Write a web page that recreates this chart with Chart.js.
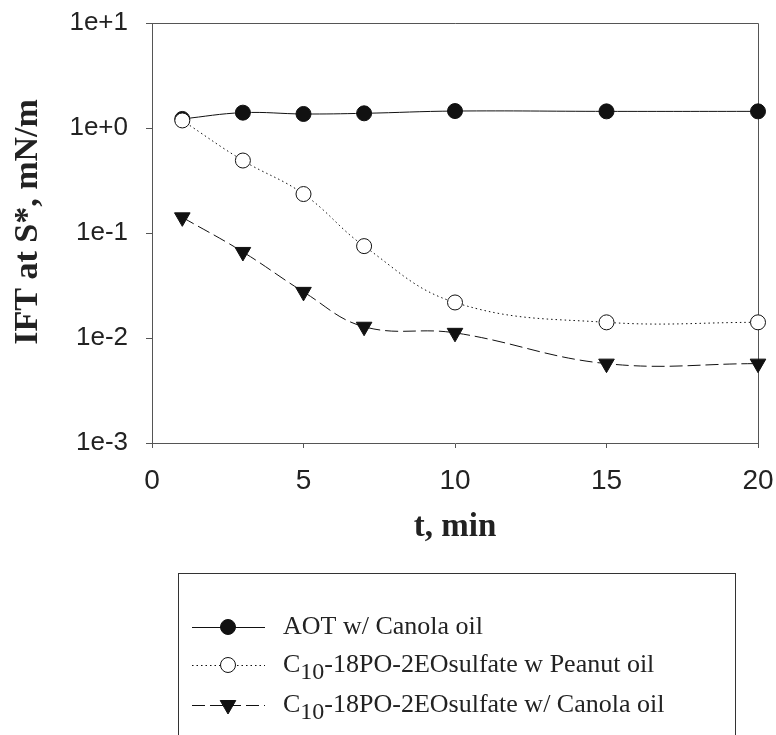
<!DOCTYPE html>
<html>
<head>
<meta charset="utf-8">
<script src="https://cdn.jsdelivr.net/npm/chart.js@4/dist/chart.umd.min.js"></script>
<style>
  html, body { margin: 0; padding: 0; background: #fff; overflow: hidden; }
  #wrap { position: relative; width: 776px; height: 735px; }
</style>
</head>
<body>
<div id="wrap"><canvas id="ift"></canvas></div>
<script>
// time points (min)
const TIMES = [1, 3, 5, 7, 10, 15, 20];
// IFT at S*, mN/m
const AOT_CANOLA = [1.22, 1.40, 1.36, 1.38, 1.45, 1.44, 1.44];
const C10_PEANUT = [1.18, 0.49, 0.235, 0.075, 0.0218, 0.0141, 0.0141];
const C10_CANOLA = [0.141, 0.066, 0.0275, 0.0128, 0.0112, 0.0057, 0.0057];

const Y_TICKS = [10, 1, 0.1, 0.01, 0.001];
const Y_LABELS = ['1e+1', '1e+0', '1e-1', '1e-2', '1e-3'];
const X_TICKS = [0, 5, 10, 15, 20];
const Y_TITLE = 'IFT at S*, mN/m';

const LEGEND_ITEMS = [
  { main: 'AOT w/ Canola oil' },
  { pre: 'C', sub: '10', main: '-18PO-2EOsulfate w Peanut oil' },
  { pre: 'C', sub: '10', main: '-18PO-2EOsulfate w/ Canola oil' },
];

const AXIS = '#555';
const INK = '#111';
const SERIF = '"Liberation Serif", "Times New Roman", serif';
const SANS = '"Liberation Sans", Arial, sans-serif';

function pts(ys) { return TIMES.map((t, i) => ({ x: t, y: ys[i] })); }

// no automatic label overflow padding: layout.padding decides the plot box
function noPad(s) {
  s.paddingTop = 0; s.paddingBottom = 0; s.paddingLeft = 0; s.paddingRight = 0;
}

// frame on top/right, y title, and the boxed legend underneath the plot
const framePlugin = {
  id: 'frame',
  beforeDatasetsDraw(chart) {
    const { ctx, chartArea: a } = chart;
    ctx.save();
    ctx.strokeStyle = AXIS;
    ctx.lineWidth = 1;
    ctx.beginPath();
    ctx.moveTo(a.left, a.top + 0.5);
    ctx.lineTo(a.right + 0.5, a.top + 0.5);
    ctx.lineTo(a.right + 0.5, a.bottom);
    ctx.stroke();

    ctx.translate(28, 222);
    ctx.rotate(-Math.PI / 2);
    ctx.fillStyle = '#222';
    ctx.font = 'bold 34px ' + SERIF;
    ctx.textAlign = 'center';
    ctx.textBaseline = 'middle';
    ctx.fillText(Y_TITLE, 0, 0);
    ctx.restore();
  },
  afterDraw(chart) {
    const { ctx } = chart;
    const sets = chart.data.datasets;
    ctx.save();
    ctx.strokeStyle = '#333';
    ctx.lineWidth = 1;
    ctx.strokeRect(178.5, 573.5, 557, 200);
    const rows = [627, 665, 705];
    LEGEND_ITEMS.forEach((item, i) => {
      const ds = sets[i];
      const y = rows[i];
      ctx.save();
      ctx.strokeStyle = INK;
      ctx.lineWidth = 1;
      ctx.setLineDash(ds.borderDash || []);
      ctx.beginPath();
      ctx.moveTo(192, y + 0.5);
      ctx.lineTo(265, y + 0.5);
      ctx.stroke();
      ctx.restore();
      ctx.save();
      ctx.fillStyle = ds.pointBackgroundColor;
      ctx.strokeStyle = ds.pointBorderColor;
      ctx.lineWidth = 1;
      Chart.helpers.drawPoint(ctx, {
        pointStyle: ds.pointStyle,
        rotation: ds.pointRotation || 0,
        radius: ds.pointRadius,
        borderWidth: 1,
      }, 228, y);
      ctx.restore();
      ctx.fillStyle = '#222';
      ctx.textBaseline = 'middle';
      ctx.font = '26px ' + SERIF;
      let x = 283;
      if (item.pre) {
        ctx.fillText(item.pre, x, y);
        x += ctx.measureText(item.pre).width;
        ctx.font = '24px ' + SERIF;
        ctx.fillText(item.sub, x, y + 8);
        x += ctx.measureText(item.sub).width;
        ctx.font = '26px ' + SERIF;
      }
      ctx.fillText(item.main, x, y);
    });
    ctx.restore();
  },
};

const ctx = document.getElementById('ift');
new Chart(ctx, {
  type: 'line',
  data: {
    datasets: [
      {
        label: 'AOT w/ Canola oil',
        data: pts(AOT_CANOLA),
        borderColor: INK,
        borderWidth: 1,
        pointStyle: 'circle',
        pointRadius: 7.5,
        pointBackgroundColor: INK,
        pointBorderColor: INK,
        tension: 0.4,
        order: 1,
        clip: false,
      },
      {
        label: 'C10-18PO-2EOsulfate w Peanut oil',
        data: pts(C10_PEANUT),
        borderColor: INK,
        borderWidth: 1,
        borderDash: [1.5, 3],
        pointStyle: 'circle',
        pointRadius: 7.5,
        pointBackgroundColor: '#fff',
        pointBorderColor: INK,
        pointBorderWidth: 1,
        tension: 0.4,
        order: 0,
        clip: false,
      },
      {
        label: 'C10-18PO-2EOsulfate w/ Canola oil',
        data: pts(C10_CANOLA),
        borderColor: INK,
        borderWidth: 1,
        borderDash: [13, 5],
        pointStyle: 'triangle',
        pointRotation: 180,
        pointRadius: 9,
        pointBackgroundColor: INK,
        pointBorderColor: INK,
        tension: 0.4,
        order: 2,
        clip: false,
      },
    ],
  },
  options: {
    responsive: true,
    maintainAspectRatio: false,
    animation: false,
    layout: { padding: { top: 23, right: 18, left: 0, bottom: 0 } },
    plugins: {
      legend: { display: false },
      tooltip: { enabled: false },
    },
    scales: {
      x: {
        type: 'linear',
        min: 0,
        max: 20,
        afterFit: s => { s.height = 292; noPad(s); },
        afterBuildTicks: s => { s.ticks = X_TICKS.map(v => ({ value: v })); },
        grid: { display: true, drawOnChartArea: false, drawTicks: true, tickLength: 5, color: AXIS },
        border: { display: true, color: AXIS, width: 1 },
        ticks: {
          padding: 16,
          color: '#222',
          maxRotation: 0,
          font: { family: SANS, size: 28 },
        },
        title: {
          display: true,
          text: 't, min',
          color: '#222',
          font: { family: SERIF, size: 33, weight: 'bold' },
          padding: { top: 0, bottom: 188 },
        },
      },
      y: {
        type: 'logarithmic',
        min: 0.001,
        max: 10,
        afterFit: s => { s.width = 152; noPad(s); },
        afterBuildTicks: s => { s.ticks = Y_TICKS.map(v => ({ value: v })); },
        grid: { display: true, drawOnChartArea: false, drawTicks: true, tickLength: 6, color: AXIS },
        border: { display: true, color: AXIS, width: 1 },
        ticks: {
          padding: 18,
          color: '#222',
          font: { family: SANS, size: 26 },
          callback: (v) => {
            const i = Y_TICKS.findIndex(t => Math.abs(Math.log10(t) - Math.log10(v)) < 1e-6);
            return i >= 0 ? Y_LABELS[i] : null;
          },
        },
        title: { display: false },
      },
    },
  },
  plugins: [framePlugin],
});
</script>
</body>
</html>
